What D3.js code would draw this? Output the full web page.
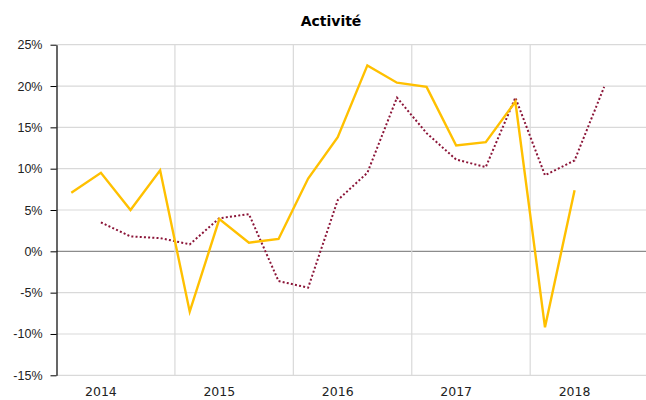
<!DOCTYPE html>
<html>
<head>
<meta charset="utf-8">
<script src="https://cdn.jsdelivr.net/npm/d3@7"></script>
<style>
  body { margin: 0; background: #fff; }
  svg { display: block; font-family: Tahoma, "DejaVu Sans", Verdana, sans-serif; }
</style>
</head>
<body>
<svg id="chart" width="646" height="400"></svg>
<script>
// quarters 2014 Q1 .. 2018 Q4
const years = [2014, 2015, 2016, 2017, 2018];
const quarters = years.flatMap(y => [1, 2, 3, 4].map(q => y + 'T' + q));

// solid yellow series
const activite = [7.1, 9.5, 5.0, 9.8, -7.3, 3.9, 1.05, 1.5, 8.8, 13.8,
  22.5, 20.4, 19.9, 12.8, 13.2, 18.1, -9.2, 7.4, null, null];
// dotted series
const tendance = [null, 3.5, 1.8, 1.6, 0.85, 4.0, 4.5, -3.6, -4.4, 6.2,
  9.5, 18.6, 14.3, 11.1, 10.2, 18.6, 9.2, 11.0, 19.9, null];

const yTicks = [-15, -10, -5, 0, 5, 10, 15, 20, 25];

const margin = { top: 44.7, left: 56.5, bottom: 24.7 };
const plotRight = 648.6;
const height = 400 - margin.top - margin.bottom;

const svg = d3.select('#chart');

const x = d3.scaleBand()
  .domain(quarters)
  .range([margin.left, plotRight]);

const y = d3.scaleLinear()
  .domain([-15, 25])
  .range([margin.top + height, margin.top]);

// horizontal grid
svg.append('g')
  .selectAll('line')
  .data(yTicks)
  .join('line')
  .attr('x1', margin.left)
  .attr('x2', plotRight)
  .attr('y1', d => y(d))
  .attr('y2', d => y(d))
  .attr('stroke', d => d === 0 ? '#8c8c8c' : '#d9d9d9')
  .attr('stroke-width', 1.2);

// vertical grid between years
svg.append('g')
  .selectAll('line')
  .data(years.slice(1))
  .join('line')
  .attr('x1', d => x(d + 'T1'))
  .attr('x2', d => x(d + 'T1'))
  .attr('y1', y(25))
  .attr('y2', y(-15))
  .attr('stroke', '#d9d9d9')
  .attr('stroke-width', 1.2);

// y axis
const yAxis = d3.axisLeft(y)
  .tickValues(yTicks)
  .tickFormat(d => d + '%')
  .tickSizeInner(6)
  .tickSizeOuter(0)
  .tickPadding(8);

const yg = svg.append('g')
  .attr('transform', `translate(${margin.left},0)`)
  .call(yAxis);
yg.select('.domain').attr('stroke', '#000').attr('stroke-width', 1.2);
yg.selectAll('.tick line').attr('stroke', '#000');
yg.selectAll('.tick text')
  .attr('fill', '#222')
  .style('font-size', '12.5px');

// year labels, under the 2nd quarter of each year
svg.append('g')
  .selectAll('text')
  .data(years)
  .join('text')
  .attr('x', d => x(d + 'T2') + x.bandwidth() / 2)
  .attr('y', 396)
  .attr('text-anchor', 'middle')
  .attr('fill', '#222')
  .style('font-size', '12.5px')
  .text(d => d);

const line = vals => d3.line()
  .defined(d => d != null)
  .x((d, i) => x(quarters[i]) + x.bandwidth() / 2)
  .y(d => y(d))(vals);

svg.append('path')
  .attr('d', line(tendance))
  .attr('fill', 'none')
  .attr('stroke', '#8b1538')
  .attr('stroke-width', 2)
  .attr('stroke-dasharray', '2,2.2');

svg.append('path')
  .attr('d', line(activite))
  .attr('fill', 'none')
  .attr('stroke', '#ffc000')
  .attr('stroke-width', 2.4)
  .attr('stroke-linejoin', 'miter');

// title
svg.append('text')
  .attr('x', 331)
  .attr('y', 26)
  .attr('text-anchor', 'middle')
  .attr('fill', '#000')
  .style('font-weight', 'bold')
  .style('font-size', '14px')
  .text('Activité');
</script>
</body>
</html>
